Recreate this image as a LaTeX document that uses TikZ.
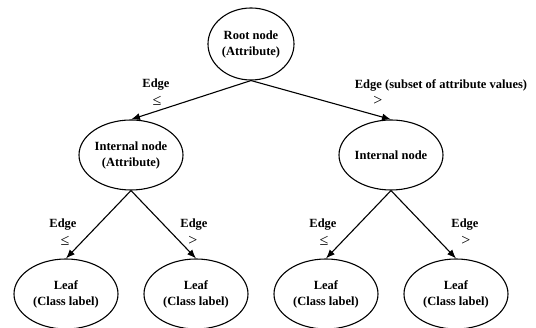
\documentclass[tikz,border=0pt]{standalone}
\usepackage{fontspec}
\setmainfont{Liberation Serif}
\usetikzlibrary{shapes}
\usetikzlibrary{arrows.meta}

\begin{document}
\begin{tikzpicture}[x=1pt, y=-1pt,
 every node/.style={font=\fontsize{12.5}{16}\selectfont\bfseries, align=center},
 tnode/.style={ellipse, draw, line width=1.1pt, minimum width=104pt, minimum height=70pt, inner sep=0pt},
 lab/.style={inner sep=0pt},
 sym/.style={inner sep=0pt, font=\fontsize{16}{18}\selectfont\normalfont},
 branch/.style={-{Latex[length=9pt,width=7pt]}, line width=1.1pt}]
 \useasboundingbox (0,0) rectangle (536,328);

 % tree nodes
 \node[tnode, minimum width=86pt, minimum height=72pt] (root) at (251,44) {Root node\\(Attribute)};
 \node[tnode] (inl) at (131,155) {Internal node\\(Attribute)};
 \node[tnode] (inr) at (391,155) {Internal node};
 \node[tnode] (leafa) at (66,294) {Leaf\\(Class label)};
 \node[tnode] (leafb) at (196,294) {Leaf\\(Class label)};
 \node[tnode] (leafc) at (326,294) {Leaf\\(Class label)};
 \node[tnode] (leafd) at (456,294) {Leaf\\(Class label)};

 % branches
 \draw[branch] (root.south) -- (inl.north);
 \draw[branch] (root.south) -- (inr.north);
 \draw[branch] (inl.south) -- (leafa.north);
 \draw[branch] (inl.south) -- (leafb.north);
 \draw[branch] (inr.south) -- (leafc.north);
 \draw[branch] (inr.south) -- (leafd.north);

 % edge labels
 \node[lab] (eroot) at (156,85) {Edge};
 \node[sym] (sroot) at (157,101) {≤};
 \node[lab] (eright) at (441,85) {Edge (subset of attribute values)};
 \node[sym] (sright) at (378,101) {>};
 \node[lab] (ea) at (63,225) {Edge};
 \node[sym] (sa) at (65,241) {≤};
 \node[lab] (eb) at (194,225) {Edge};
 \node[sym] (sb) at (193,241) {>};
 \node[lab] (ec) at (323,225) {Edge};
 \node[sym] (sc) at (324,241) {≤};
 \node[lab] (ed) at (465,225) {Edge};
 \node[sym] (sd) at (466,241) {>};
\end{tikzpicture}
\end{document}
